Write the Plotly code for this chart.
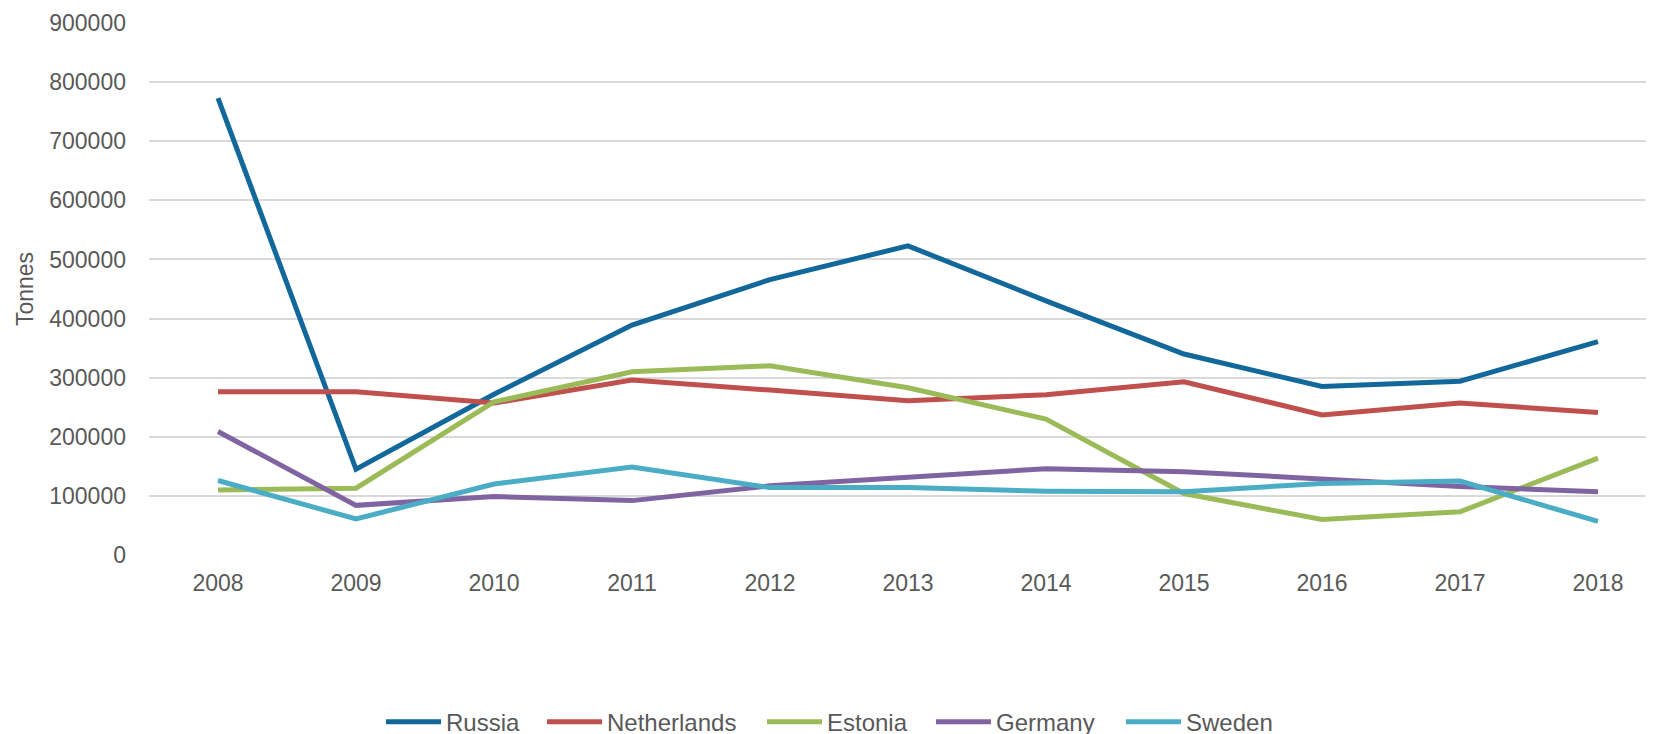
import plotly.graph_objects as go

years = ["2008", "2009", "2010", "2011", "2012", "2013", "2014", "2015", "2016", "2017", "2018"]
russia = [773000, 145000, 272000, 389000, 466000, 523000, 430000, 340000, 285000, 294000, 361000]
netherlands = [276000, 276000, 257000, 296000, 279000, 261000, 271000, 293000, 237000, 257000, 241000]
estonia = [110000, 113000, 259000, 310000, 320000, 283000, 230000, 104000, 60000, 73000, 164000]
germany = [209000, 84000, 99000, 92000, 117000, 131000, 146000, 141000, 128000, 116000, 107000]
sweden = [126000, 61000, 120000, 149000, 114000, 114000, 108000, 107000, 121000, 125000, 57000]

names = ["Russia", "Netherlands", "Estonia", "Germany", "Sweden"]
values = [russia, netherlands, estonia, germany, sweden]
colors = ["#12689A", "#C0504D", "#9BBB59", "#8064A2", "#4BACC6"]
legend_left_px = [386, 547, 767, 936, 1126]

font = "Liberation Sans, Arial, sans-serif"
fig = go.Figure()
legends = {}
for i, (name, vals, color) in enumerate(zip(names, values, colors)):
    key = "legend" if i == 0 else f"legend{i + 1}"
    fig.add_trace(go.Scatter(x=years, y=vals, name=name, mode="lines",
                             line=dict(color=color, width=5), legend=key))
    legends[key] = dict(orientation="h", xref="container", yref="container",
                        x=(legend_left_px[i] - 8 - 5) / 1654, xanchor="left",
                        y=0.027, yanchor="middle", itemwidth=55,
                        font=dict(size=24, color="#595959"),
                        bgcolor="rgba(0,0,0,0)")

fig.update_layout(
    width=1654, height=734,
    margin=dict(l=141, r=0, t=15, b=187, autoexpand=False),
    paper_bgcolor="white", plot_bgcolor="white",
    font=dict(family=font, size=23, color="#595959"),
    showlegend=True,
    xaxis=dict(type="category", range=[-0.5, 10.464], showgrid=False,
               showline=False, ticks="", ticklabelstandoff=12,
               tickfont=dict(size=23, color="#595959")),
    yaxis=dict(range=[0, 900000], dtick=100000, tickformat="d",
               showgrid=True, gridcolor="#D9D9D9", gridwidth=2,
               zeroline=False, showline=False, ticks="",
               ticklabelstandoff=22,
               tickfont=dict(size=23, color="#595959"),
               title=dict(text="Tonnes", standoff=9,
                          font=dict(size=23, color="#595959"))),
    **legends,
)

fig.write_html("out.html")
